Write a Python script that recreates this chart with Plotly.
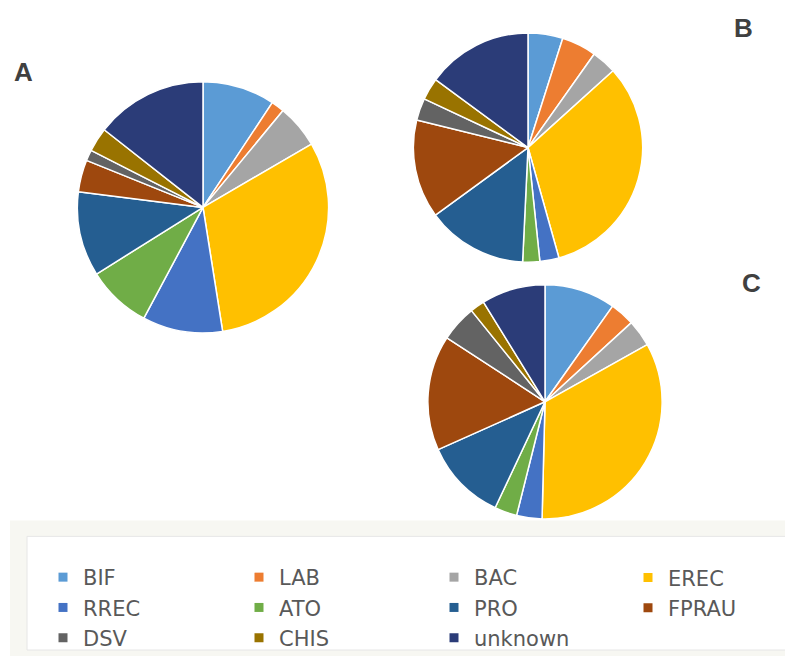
import plotly.graph_objects as go

OFF = 8  # page body margin offset
W, H = 793 - OFF, 658 - OFF

categories = ["BIF", "LAB", "BAC", "EREC", "RREC", "ATO", "PRO", "FPRAU", "DSV", "CHIS", "unknown"]
colors = ["#5B9BD5", "#ED7D31", "#A5A5A5", "#FFC000", "#4472C4", "#70AD47",
          "#255E91", "#9E480E", "#636363", "#997300", "#2B3C78"]

values_A = [9.3, 1.7, 5.6, 30.9, 10.3, 8.3, 10.9, 4.1, 1.4, 3.1, 14.4]
values_B = [4.9, 4.9, 3.5, 32.3, 2.7, 2.4, 14.2, 13.9, 3.1, 3.1, 14.9]
values_C = [9.8, 3.4, 3.7, 33.5, 3.5, 3.1, 11.3, 15.9, 5.0, 2.0, 8.8]

panel_labels = ["A", "B", "C"]
legend_columns = 4


def px(x):
    return (x - OFF) / W


def py(y):
    return 1 - (y - OFF) / H


def dom(cx, cy, r):
    return dict(x=[px(cx - r), px(cx + r)], y=[py(cy + r), py(cy - r)])


pies = [
    (values_A, dom(203, 208, 126)),
    (values_B, dom(528, 148, 115)),
    (values_C, dom(545, 403, 117.5)),
]

fig = go.Figure()
for vals, d in pies:
    fig.add_trace(go.Pie(
        labels=categories, values=vals, domain=d,
        sort=False, direction="clockwise", rotation=0,
        textinfo="none", hoverinfo="label+percent",
        marker=dict(colors=colors, line=dict(color="white", width=1.5)),
        showlegend=False,
    ))

# legend entries (one legend per column, row-major order as in the original)
legend_ids = ["legend", "legend2", "legend3", "legend4"]
for i, (cat, col) in enumerate(zip(categories, colors)):
    fig.add_trace(go.Scatter(
        x=[None], y=[None], mode="markers", name=cat,
        marker=dict(symbol="square", size=9, color=col),
        legend=legend_ids[i % legend_columns], hoverinfo="skip",
    ))

# legend frame
fig.add_shape(type="rect", xref="paper", yref="paper",
              x0=px(10), x1=1.0, y0=0, y1=py(522),
              fillcolor="#F7F7F2", line=dict(width=0), layer="below")
fig.add_shape(type="rect", xref="paper", yref="paper",
              x0=px(27), x1=px(791), y0=py(652), y1=py(538),
              fillcolor="white", line=dict(color="#E6E6E6", width=1), layer="below")

ann_pos = [(23, 72), (743, 28), (751, 284)]
for lab, (x, y) in zip(panel_labels, ann_pos):
    fig.add_annotation(x=px(x), y=py(y), xref="paper", yref="paper",
                       text=f"<b>{lab}</b>", showarrow=False,
                       font=dict(family="Liberation Sans, Arial, sans-serif", size=26, color="#404040"),
                       xanchor="center", yanchor="middle")

legend_font = dict(family="DejaVu Sans, sans-serif", size=21, color="#595959")
legend_x = [43, 239, 434, 628]
layout_legends = {}
for lid, lx in zip(legend_ids, legend_x):
    layout_legends[lid] = dict(
        orientation="v", x=px(lx), xanchor="left", y=py(559), yanchor="top",
        font=legend_font, bgcolor="rgba(0,0,0,0)", borderwidth=0,
        itemclick=False, itemdoubleclick=False,
    )

fig.update_layout(
    width=W, height=H,
    margin=dict(l=0, r=0, t=0, b=0),
    paper_bgcolor="white", plot_bgcolor="rgba(0,0,0,0)",
    xaxis=dict(visible=False, showgrid=False, zeroline=False),
    yaxis=dict(visible=False, showgrid=False, zeroline=False),
    **layout_legends,
)

fig.write_html("out.html")
